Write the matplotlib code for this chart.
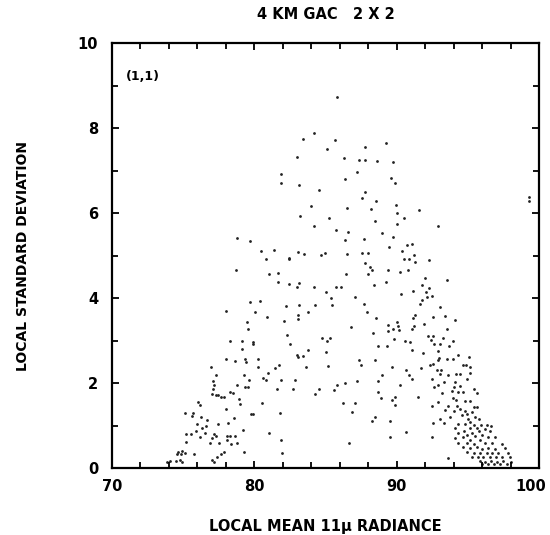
import matplotlib
matplotlib.use("Agg")
import matplotlib.pyplot as plt
import matplotlib.transforms as mtransforms
import numpy as np

x_vals = [
    81.88, 81.88, 78.78, 79.70, 80.47, 81.36, 80.82, 82.44, 78.74, 81.06, 81.64, 81.64,
    79.70, 80.40, 82.21, 77.99, 80.05, 80.89, 79.46, 82.11, 79.58, 82.28, 78.29, 79.16,
    79.91, 79.93, 79.16, 77.99, 78.64, 79.35, 79.42, 80.26, 80.24, 76.98, 81.76, 81.48,
    80.99, 77.29, 79.28, 80.61, 80.85, 79.61, 81.90, 77.12, 77.19, 79.35, 79.58, 78.76,
    77.07, 81.57, 77.03, 77.31, 77.47, 77.66, 77.89, 78.27, 78.50, 78.92, 79.02, 80.52,
    76.02, 76.18, 78.01, 75.13, 75.69, 75.64, 79.77, 79.93, 81.81, 76.28, 76.65, 78.59,
    75.97, 76.61, 77.47, 78.17, 76.30, 75.17, 75.57, 75.88, 76.56, 77.19, 76.21, 77.03,
    77.33, 78.06, 78.31, 78.64, 79.18, 81.03, 75.17, 76.91, 77.54, 78.08, 78.36, 78.78,
    81.90, 74.66, 74.90, 74.55, 74.83, 75.13, 75.79, 77.85, 79.28, 74.10, 74.50, 74.78,
    74.94, 77.05, 77.19, 77.40, 77.64, 81.92, 73.90,
    # zoom 8 region
    85.83, 84.22, 83.44, 85.67, 85.13, 87.76, 89.28, 82.98, 86.33, 87.36, 87.78, 88.60,
    89.75, 87.24, 86.39, 89.58, 89.89, 83.16, 84.55, 87.76, 87.57, 88.58, 83.98, 86.51,
    88.18, 89.98, 90.00, 90.49, 83.23, 85.27, 90.03, 84.17, 88.46, 85.72, 86.61, 88.95,
    87.71, 86.37, 89.72, 89.48, 90.75, 91.06, 90.40, 91.24, 83.09, 83.49, 84.69, 84.97,
    86.51, 87.59, 88.01, 82.46, 90.52, 90.87, 87.80, 88.11, 88.27, 87.99, 89.37, 90.21,
    90.77, 86.42, 89.28, 82.44, 82.98, 83.16, 84.17, 85.72, 86.07, 88.39,
    # zoom 9 region
    85.06, 85.37, 87.08, 90.33, 91.17, 83.12, 84.27, 85.46, 87.69, 83.80, 83.09, 83.09,
    87.94, 88.58, 91.13, 89.42, 90.05, 90.07, 89.40, 89.72, 90.19, 91.06, 86.80, 88.32,
    84.74, 85.30, 85.09, 89.79, 90.59, 90.96, 82.51, 88.67, 89.35, 91.08, 83.74, 85.04,
    82.98, 83.40, 83.05, 87.36, 88.48, 87.52, 83.61, 85.16, 89.66, 90.64, 88.95, 90.89,
    91.10, 82.86, 87.22, 88.71, 86.37, 85.83, 82.72, 84.57, 85.62, 90.26, 88.71, 84.24,
    88.88, 89.91, 89.66, 89.91, 86.21, 87.06, 86.89, 88.48, 88.27, 89.56, 90.68, 89.56,
    86.68,
    # zoom 10 region
    99.30, 99.30, 91.55, 92.93, 91.31, 92.28, 92.00, 93.54, 91.76, 92.30, 92.04, 92.16,
    92.46, 91.81, 91.62, 93.03, 91.31, 92.56, 93.38, 94.10, 91.93, 91.24, 93.54,
    # zoom 11 region
    92.23, 92.53, 93.24, 93.96, 92.42, 92.60, 93.07, 93.68, 92.93, 91.88, 92.98, 92.88,
    93.56, 93.98, 94.33, 95.06, 92.35, 92.58, 94.66, 94.88, 95.16, 91.69, 92.81, 93.12,
    93.05, 93.64, 94.17, 94.46, 95.16, 92.46, 93.35, 94.10, 94.92, 92.93, 94.05, 94.46,
    92.65, 95.40, 93.86, 94.33, 94.69, 95.62, 93.17, 91.48, 93.98, 94.15, 94.81, 95.16,
    92.93, 92.46, 93.58, 94.22, 94.46, 95.40, 95.62, 93.40, 94.05, 94.81, 95.28, 94.58,
    94.92, 95.51, 93.75, 93.05, 95.04, 95.79, 95.16, 94.33, 94.81, 95.40, 95.93, 96.33,
    96.63, 92.53, 93.35, 94.10, 95.16, 95.62, 96.21, 94.33, 94.76, 95.28, 95.79, 96.56,
    94.92, 95.51, 96.03, 92.46, 94.10, 94.69, 95.16, 95.86, 96.45, 96.92, 94.33, 94.92,
    95.40, 96.21, 96.73, 97.38, 94.69, 95.16, 95.62, 95.97, 96.45, 96.92, 97.62, 94.92,
    95.46, 95.86, 96.33, 96.73, 97.15, 97.85, 93.64, 95.28, 95.70, 96.10, 96.56, 96.96,
    97.38, 97.97, 95.86, 96.21, 96.63, 97.03, 97.50, 98.04, 95.97, 96.45, 96.87, 97.27,
    97.74,
]

y_vals = [
    6.91, 6.71, 5.41, 5.34, 5.10, 5.13, 4.91, 4.93, 4.66, 4.56, 4.60, 4.38,
    3.90, 3.94, 3.81, 3.69, 3.66, 3.55, 3.43, 3.46, 3.28, 3.13, 3.00, 3.00,
    2.96, 2.91, 2.81, 2.57, 2.52, 2.56, 2.49, 2.56, 2.38, 2.37, 2.43, 2.35,
    2.24, 2.19, 2.19, 2.12, 2.07, 2.08, 2.08, 2.05, 1.95, 1.91, 1.91, 1.96,
    1.85, 1.87, 1.74, 1.71, 1.71, 1.68, 1.68, 1.80, 1.76, 1.62, 1.51, 1.52,
    1.56, 1.49, 1.40, 1.29, 1.29, 1.23, 1.28, 1.28, 1.30, 1.20, 1.14, 1.18,
    1.04, 0.98, 1.04, 1.07, 0.93, 0.80, 0.81, 0.86, 0.83, 0.79, 0.74, 0.71,
    0.76, 0.75, 0.75, 0.76, 0.89, 0.82, 0.61, 0.60, 0.60, 0.65, 0.56, 0.59,
    0.65, 0.38, 0.40, 0.33, 0.34, 0.35, 0.32, 0.38, 0.38, 0.16, 0.16, 0.18,
    0.13, 0.18, 0.15, 0.27, 0.32, 0.35, 0.15,
    # zoom 8 region
    8.74, 7.88, 7.74, 7.72, 7.51, 7.55, 7.65, 7.32, 7.29, 7.25, 7.24, 7.22,
    7.20, 6.96, 6.81, 6.83, 6.70, 6.66, 6.53, 6.50, 6.35, 6.28, 6.17, 6.12,
    6.10, 6.20, 5.99, 5.88, 5.94, 5.88, 5.74, 5.70, 5.81, 5.60, 5.56, 5.54,
    5.40, 5.36, 5.43, 5.21, 5.25, 5.27, 5.10, 5.02, 5.09, 5.03, 5.01, 5.07,
    5.03, 5.07, 5.07, 4.92, 4.91, 4.91, 4.82, 4.73, 4.65, 4.57, 4.65, 4.61,
    4.65, 4.56, 4.38, 4.32, 4.27, 4.36, 4.27, 4.27, 4.25, 4.31,
    # zoom 9 region
    4.14, 3.99, 4.03, 4.09, 4.16, 3.84, 3.83, 3.83, 3.87, 3.68, 3.61, 3.51,
    3.67, 3.52, 3.54, 3.36, 3.43, 3.35, 3.23, 3.27, 3.25, 3.27, 3.32, 3.18,
    3.07, 3.07, 2.99, 3.04, 3.00, 2.97, 2.92, 2.86, 2.87, 2.78, 2.78, 2.73,
    2.66, 2.63, 2.62, 2.53, 2.53, 2.43, 2.38, 2.39, 2.37, 2.30, 2.20, 2.20,
    2.09, 2.07, 2.05, 2.05, 1.99, 1.95, 1.87, 1.85, 1.84, 1.95, 1.80, 1.73,
    1.65, 1.67, 1.60, 1.48, 1.52, 1.52, 1.32, 1.19, 1.11, 1.11, 0.85, 0.72,
    0.60,
    # zoom 10 region
    6.38, 6.28, 6.06, 5.69, 4.85, 4.89, 4.46, 4.42, 4.30, 4.24, 4.13, 4.02,
    4.04, 3.96, 3.87, 3.79, 3.59, 3.55, 3.58, 3.49, 3.38, 3.35, 3.27,
    # zoom 11 region
    3.11, 3.11, 3.05, 3.00, 3.01, 2.92, 2.92, 2.86, 2.76, 2.71, 2.58, 2.54,
    2.56, 2.56, 2.67, 2.62, 2.43, 2.44, 2.42, 2.43, 2.38, 2.35, 2.31, 2.31,
    2.21, 2.20, 2.21, 2.21, 2.23, 2.09, 2.02, 2.02, 2.09, 1.95, 1.91, 1.93,
    1.91, 1.85, 1.81, 1.80, 1.78, 1.77, 1.76, 1.66, 1.64, 1.60, 1.58, 1.58,
    1.55, 1.46, 1.46, 1.46, 1.40, 1.43, 1.44, 1.36, 1.35, 1.35, 1.32, 1.25,
    1.26, 1.21, 1.19, 1.16, 1.15, 1.16, 1.09, 1.04, 1.04, 1.01, 1.01, 1.01,
    0.99, 1.05, 1.05, 0.93, 0.93, 0.93, 0.91, 0.83, 0.86, 0.83, 0.86, 0.86,
    0.78, 0.75, 0.78, 0.74, 0.70, 0.72, 0.67, 0.67, 0.72, 0.72, 0.60, 0.58,
    0.56, 0.60, 0.58, 0.56, 0.49, 0.46, 0.49, 0.44, 0.46, 0.44, 0.46, 0.38,
    0.36, 0.35, 0.36, 0.35, 0.36, 0.35, 0.23, 0.27, 0.25, 0.27, 0.25, 0.27,
    0.25, 0.25, 0.17, 0.15, 0.17, 0.15, 0.17, 0.13, 0.09, 0.09, 0.09, 0.09,
    0.09,
]

x_major = [70, 80, 90, 100]
y_major = [0, 2, 4, 6, 8, 10]

plt.rcParams['font.family'] = ['DejaVu Sans']
fig = plt.figure(figsize=(5.5, 5.35), dpi=100)
ax = fig.add_axes([0.2036, 0.1252, 0.7764, 0.7944])

ax.scatter(x_vals, y_vals, s=4, c='#222222', marker='o', linewidths=0)

ax.set_xlim(70, 100)
ax.set_ylim(0, 10)
ax.set_xticks(x_major)
ax.set_yticks(y_major)
ax.set_xticks(np.arange(70, 101, 2), minor=True)
ax.set_yticks(np.arange(0, 11, 1), minor=True)
ax.tick_params(which='both', direction='in', top=True, right=True, width=1.3)
ax.tick_params(which='major', length=5, labelsize=10.5)
ax.tick_params(axis='x', which='major', pad=8)
ax.tick_params(axis='y', which='major', pad=10)
ax.tick_params(which='minor', length=4)
for lab in ax.get_xticklabels() + ax.get_yticklabels():
    lab.set_fontweight('bold')
# shift the last x tick label slightly left, as in the reference
last = ax.get_xticklabels()[-1]
last.set_transform(last.get_transform() + mtransforms.ScaledTranslation(-6 / 72, 0, fig.dpi_scale_trans))
for sp in ax.spines.values():
    sp.set_linewidth(1.6)

ax.set_xlabel('LOCAL MEAN 11μ RADIANCE', fontsize=10.5, fontweight='bold', labelpad=18)
ax.set_ylabel('LOCAL STANDARD DEVIATION', fontsize=10, fontweight='bold', labelpad=34)
ax.set_title('4 KM GAC   2 X 2', fontsize=10.5, fontweight='bold', pad=17)
ax.text(71.0, 9.12, '(1,1)', fontsize=9, fontweight='bold')

fig.savefig('out.png', dpi=100)
